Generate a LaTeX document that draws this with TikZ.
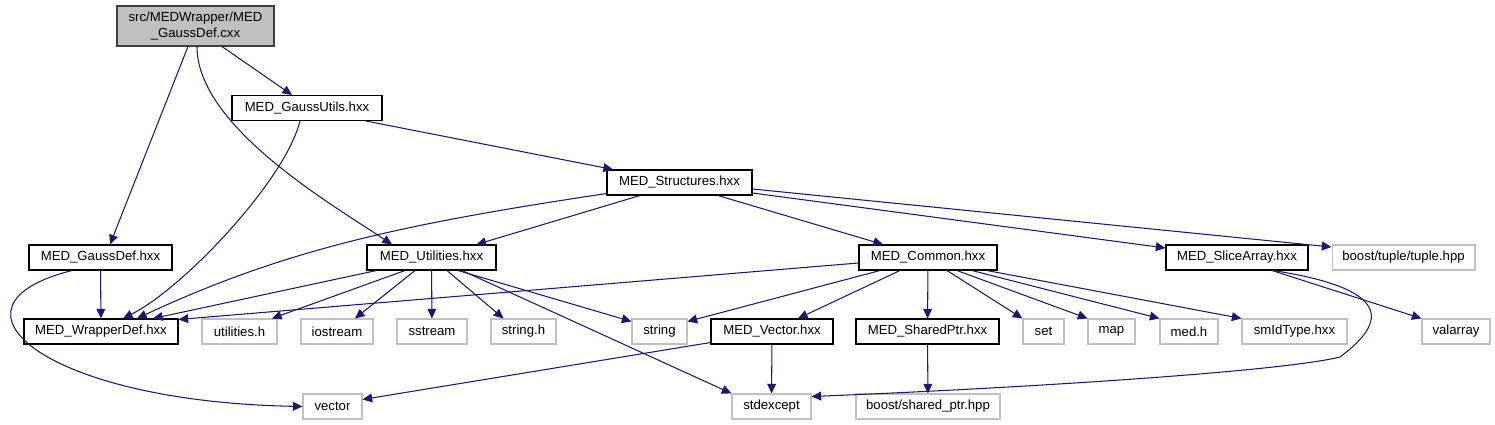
\documentclass[tikz,border=0pt]{standalone}
\usepackage{fontspec}
\setmainfont{Liberation Sans}
\usepackage{xcolor}
\usetikzlibrary{arrows.meta,positioning,calc}
\definecolor{edgeblue}{HTML}{191970}
\definecolor{sysgray}{HTML}{C0C0C0}

\begin{document}
\begin{tikzpicture}[x=0.02cm,y=-0.02cm,font=\fontsize{7.5}{9}\selectfont,
  hdr/.style={draw=black,line width=0.6pt,minimum height=0.5cm,inner sep=0pt},
  sys/.style={draw=sysgray,line width=0.6pt,minimum height=0.5cm,inner sep=0pt},
  dep/.style={-{Triangle[length=5.5pt,width=5pt]},edgeblue,line width=0.6pt}]
\useasboundingbox (0,0) rectangle (1495,425);
\node[hdr,draw=black!75,fill=sysgray,minimum width=3.14cm,minimum height=0.8cm,align=center] (root) at (195.5,26) {src/MEDWrapper/MED\\\_GaussDef.cxx};
\node[hdr,minimum width=3.0cm] (gaussutils) at (307,108) {MED\_GaussUtils.hxx};
\node[hdr,minimum width=2.9cm] (structures) at (679.5,182.5) {MED\_Structures.hxx};
\node[hdr,minimum width=2.86cm] (gaussdef) at (100.5,257.5) {MED\_GaussDef.hxx};
\node[hdr,minimum width=2.58cm] (utilities) at (431.5,257.5) {MED\_Utilities.hxx};
\node[hdr,minimum width=2.76cm] (common) at (928,257.5) {MED\_Common.hxx};
\node[hdr,minimum width=2.84cm] (slicearray) at (1237,257.5) {MED\_SliceArray.hxx};
\node[sys,minimum width=2.86cm] (tuple) at (1403.5,257.5) {boost/tuple/tuple.hpp};
\node[hdr,minimum width=3.08cm] (wrapperdef) at (101,331.5) {MED\_WrapperDef.hxx};
\node[sys,minimum width=1.5cm] (utilh) at (239.5,331.5) {utilities.h};
\node[sys,minimum width=1.44cm] (iostream) at (337,331.5) {iostream};
\node[sys,minimum width=1.4cm] (sstream) at (432,331.5) {sstream};
\node[sys,minimum width=1.3cm] (stringh) at (523.5,331.5) {string.h};
\node[sys,minimum width=1.1cm] (string) at (659.5,331.5) {string};
\node[hdr,minimum width=2.44cm] (vectorhxx) at (772,331.5) {MED\_Vector.hxx};
\node[hdr,minimum width=2.86cm] (sharedptr) at (927.5,331.5) {MED\_SharedPtr.hxx};
\node[sys,minimum width=0.82cm] (set) at (1043.5,331.5) {set};
\node[sys,minimum width=0.94cm] (map) at (1111.5,331.5) {map};
\node[sys,minimum width=1.16cm] (medh) at (1189,331.5) {med.h};
\node[sys,minimum width=2.1cm] (smidtype) at (1294.5,331.5) {smIdType.hxx};
\node[sys,minimum width=1.36cm] (valarray) at (1456,331.5) {valarray};
\node[sys,minimum width=1.18cm] (vector) at (332.5,406.5) {vector};
\node[sys,minimum width=1.58cm] (stdexcept) at (771.5,406.5) {stdexcept};
\node[sys,minimum width=2.88cm] (sharedhpp) at (928,406.5) {boost/shared\_ptr.hpp};
\coordinate (sbend) at (1340,357);
\draw[dep] ([xshift=-0.15cm]root.south) -- ([xshift=0.19cm]gaussdef.north);
\draw[dep] ([xshift=0.53cm]root.south) -- ([xshift=-0.3cm]gaussutils.north);
\draw[dep] ([xshift=0.03cm]root.south) .. controls +(0,80) and +(-60,-40) .. ([xshift=-0.79cm]utilities.north);
\draw[dep] ([xshift=-0.14cm]gaussutils.south) .. controls +(-15,60) and +(60,-30) .. ([xshift=0.44cm]wrapperdef.north);
\draw[dep] ([xshift=1.18cm]gaussutils.south) -- ([xshift=-1.33cm]structures.north);
\draw[dep] ([yshift=0.04cm]structures.south west) .. controls +(-200,30) and +(150,-70) .. ([xshift=0.72cm]wrapperdef.north);
\draw[dep] ([xshift=-0.79cm]structures.south) -- ([xshift=0.9cm]utilities.north);
\draw[dep] ([xshift=0.77cm]structures.south) -- ([xshift=-0.9cm]common.north);
\draw[dep] ([yshift=-0.21cm]structures.east) -- ([yshift=0.19cm]slicearray.west);
\draw[dep] ([yshift=-0.13cm]structures.east) -- ([yshift=0.21cm]tuple.west);
\draw[dep] (gaussdef) -- (wrapperdef);
\draw[dep] ([xshift=-0.57cm]gaussdef.south) .. controls +(-140,35) and +(-260,-5) .. (vector.west);
\draw[dep] ([xshift=0.2cm]utilities.south west) -- ([xshift=1.04cm]wrapperdef.north);
\draw[dep] ([xshift=-0.53cm]utilities.south) -- ([xshift=0.65cm]utilh.north);
\draw[dep] ([xshift=-0.33cm]utilities.south) -- ([xshift=0.36cm]iostream.north);
\draw[dep] (utilities) -- (sstream);
\draw[dep] ([xshift=0.31cm]utilities.south) -- ([xshift=-0.4cm]stringh.north);
\draw[dep] ([xshift=0.53cm]utilities.south) -- ([yshift=0.2cm]string.west);
\draw[dep] ([xshift=0.61cm]utilities.south) -- (stdexcept.north west);
\draw[dep] ([yshift=-0.11cm]common.west) -- ([yshift=-0.02cm]wrapperdef.north east);
\draw[dep] ([xshift=-0.96cm]common.south) -- ([yshift=0.2cm]string.east);
\draw[dep] ([xshift=-0.56cm]common.south) -- ([xshift=0.52cm]vectorhxx.north);
\draw[dep] (common) -- (sharedptr);
\draw[dep] ([xshift=0.38cm]common.south) -- (set.north west);
\draw[dep] ([xshift=0.58cm]common.south) -- (map.north west);
\draw[dep] ([xshift=0.88cm]common.south) -- (medh.north west);
\draw[dep] ([xshift=1.18cm]common.south) -- (smidtype.north west);
\draw[dep] ([xshift=0.7cm]slicearray.south) -- (valarray.north west);
\draw[dep] ([xshift=0.72cm]slicearray.south) .. controls +(130,20) and +(40,-30) .. (sbend) .. controls +(-60,15) and +(200,-8) .. ([yshift=0.2cm]stdexcept.east);
\draw[dep] ([yshift=0.04cm]vectorhxx.south west) -- ([yshift=0.14cm]vector.east);
\draw[dep] (vectorhxx) -- (stdexcept);
\draw[dep] (sharedptr) -- (sharedhpp);
\end{tikzpicture}
\end{document}
